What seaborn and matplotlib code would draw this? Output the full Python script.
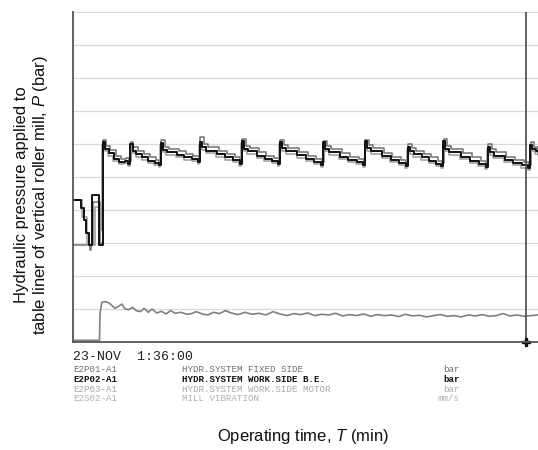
import numpy as np
import pandas as pd
import matplotlib
matplotlib.use("Agg")
import matplotlib.pyplot as plt
import seaborn as sns

# --- data (time in min, value in grid units) ---
# E2P02-A1 hydr. system work side B.E. (black)
p02_t = [0, 1.7, 2.3, 2.8, 3.4, 4.0, 5.6,
         6.4, 6.9, 7.7, 8.8, 9.9, 11.1, 11.9,
         12.3, 12.8, 13.6, 14.9, 16.2, 17.6, 18.5,
         18.9, 19.4, 20.2, 22.3, 23.9, 25.6, 26.9,
         27.3, 27.8, 28.6, 30.9, 32.7, 34.5, 35.9,
         36.3, 36.8, 37.6, 39.6, 41.2, 42.9, 44.1,
         44.5, 45.0, 45.8, 48.2, 50.1, 51.9, 53.4,
         53.8, 54.3, 55.1, 57.4, 59.2, 61.0, 62.4,
         62.8, 63.3, 64.1, 66.5, 68.3, 70.2, 71.6,
         72.0, 72.5, 73.3, 75.0, 76.6, 78.1, 79.2,
         79.6, 80.1, 80.9, 83.4, 85.4, 87.3, 88.8,
         89.2, 89.7, 90.5, 92.8, 94.7, 96.5, 97.9,
         98.3, 98.8, 99.5, 100]
p02_v = [4.3, 4.05, 3.7, 3.3, 2.95, 4.45, 2.95,
         6.07, 5.85, 5.72, 5.55, 5.45, 5.5, 5.39,
         5.99, 5.8, 5.7, 5.6, 5.5, 5.42, 5.36,
         6.04, 5.82, 5.75, 5.68, 5.6, 5.55, 5.46,
         6.05, 5.9, 5.8, 5.7, 5.6, 5.52, 5.4,
         6.1, 5.85, 5.78, 5.65, 5.55, 5.48, 5.39,
         6.07, 5.88, 5.78, 5.66, 5.55, 5.45, 5.36,
         6.05, 5.85, 5.75, 5.62, 5.52, 5.45, 5.36,
         6.08, 5.87, 5.78, 5.65, 5.52, 5.42, 5.33,
         5.92, 5.78, 5.7, 5.6, 5.5, 5.4, 5.33,
         6.08, 5.85, 5.76, 5.62, 5.5, 5.4, 5.31,
         5.92, 5.75, 5.65, 5.52, 5.42, 5.35, 5.26,
         5.98, 5.85, 5.78, 5.75]

# E2P01-A1 hydr. system fixed side (medium gray)
p01_t = [0, 3.6, 3.8, 4.4, 5.9,
         6.5, 7.1, 8.0, 9.2, 10.3, 11.4, 12.0,
         12.4, 13.0, 13.9, 15.3, 16.6, 17.9, 18.6,
         19.0, 19.7, 20.6, 22.7, 24.3, 25.9, 27.0,
         27.4, 28.1, 29.0, 31.3, 33.1, 34.9, 36.0,
         36.4, 37.1, 38.0, 40.0, 41.6, 43.3, 44.2,
         44.6, 45.3, 46.2, 48.6, 50.5, 52.3, 53.5,
         53.9, 54.6, 55.5, 57.8, 59.6, 61.4, 62.5,
         62.9, 63.6, 64.5, 66.9, 68.7, 70.6, 71.7,
         72.1, 72.8, 73.7, 75.4, 77.0, 78.5, 79.3,
         79.7, 80.4, 81.3, 83.8, 85.8, 87.7, 88.9,
         89.3, 90.0, 90.9, 93.2, 95.1, 96.9, 98.0,
         98.4, 99.1, 100]
p01_v = [2.95, 2.8, 2.95, 4.25, 3.0,
         6.12, 5.95, 5.82, 5.65, 5.55, 5.58, 5.47,
         6.05, 5.9, 5.8, 5.7, 5.6, 5.52, 5.45,
         6.12, 5.92, 5.85, 5.78, 5.7, 5.63, 5.55,
         6.2, 6.0, 5.9, 5.8, 5.7, 5.6, 5.5,
         6.15, 5.95, 5.88, 5.75, 5.65, 5.57, 5.48,
         6.12, 5.97, 5.87, 5.75, 5.64, 5.55, 5.45,
         6.1, 5.95, 5.85, 5.72, 5.62, 5.55, 5.45,
         6.12, 5.97, 5.87, 5.74, 5.62, 5.52, 5.42,
         6.0, 5.87, 5.8, 5.7, 5.6, 5.5, 5.42,
         6.15, 5.95, 5.85, 5.72, 5.6, 5.5, 5.4,
         6.0, 5.85, 5.75, 5.62, 5.52, 5.44, 5.35,
         6.05, 5.9, 5.85]

# E2P03-A1 hydr. system work side motor (light gray)
p03_t = [0, 2.0, 3.0, 4.8, 6.0,
         6.3, 6.8, 7.6, 8.7, 9.8, 11.0, 11.8,
         12.2, 12.7, 13.5, 14.8, 16.1, 17.5, 18.4,
         18.8, 19.3, 20.1, 22.2, 23.8, 25.5, 26.8,
         27.2, 27.7, 28.5, 30.8, 32.6, 34.4, 35.8,
         36.2, 36.7, 37.5, 39.5, 41.1, 42.8, 44.0,
         44.4, 44.9, 45.7, 48.1, 50.0, 51.8, 53.3,
         53.7, 54.2, 55.0, 57.3, 59.1, 60.9, 62.3,
         62.7, 63.2, 64.0, 66.4, 68.2, 70.1, 71.5,
         71.9, 72.4, 73.2, 74.9, 76.5, 78.0, 79.1,
         79.5, 80.0, 80.8, 83.3, 85.3, 87.2, 88.7,
         89.1, 89.6, 90.4, 92.7, 94.6, 96.4, 97.8,
         98.2, 98.7, 99.4, 100]
p03_v = [4.3, 3.8, 2.95, 4.1, 3.4,
         5.98, 5.78, 5.65, 5.48, 5.38, 5.42, 5.33,
         5.92, 5.72, 5.62, 5.52, 5.43, 5.36, 5.3,
         5.97, 5.75, 5.68, 5.6, 5.53, 5.48, 5.4,
         5.98, 5.83, 5.72, 5.62, 5.53, 5.45, 5.34,
         6.02, 5.78, 5.7, 5.58, 5.48, 5.41, 5.33,
         6.0, 5.8, 5.7, 5.58, 5.48, 5.38, 5.3,
         5.98, 5.78, 5.68, 5.55, 5.45, 5.38, 5.3,
         6.0, 5.8, 5.7, 5.58, 5.45, 5.35, 5.27,
         5.85, 5.7, 5.62, 5.52, 5.43, 5.33, 5.27,
         6.0, 5.78, 5.68, 5.55, 5.43, 5.33, 5.25,
         5.85, 5.68, 5.58, 5.45, 5.35, 5.28, 5.2,
         5.92, 5.78, 5.7, 5.68]

# E2S02-A1 mill vibration
vib_t = [0, 5.7, 5.8, 6.2, 7.0, 7.8, 8.4, 9.0, 9.8, 10.5, 11.2, 12.0, 12.8,
         13.6, 14.5, 15.3, 16.2, 17.0, 18.0, 19.0, 20.0, 21.0, 22.0, 23.2,
         24.5, 25.5, 26.5, 27.8, 29.0, 30.2, 31.5, 32.8, 34.0, 35.5, 37.0,
         38.5, 40.0, 41.5, 43.0, 44.5, 46.0, 47.5, 49.0, 50.5, 52.0, 53.5,
         55.0, 56.5, 58.0, 59.5, 61.0, 62.5, 64.0, 65.5, 67.0, 68.5, 70.0,
         71.5, 73.0, 74.5, 76.0, 77.5, 79.0, 80.5, 82.0, 83.5, 85.0, 86.5,
         88.0, 89.5, 91.0, 92.5, 94.0, 95.5, 97.0, 98.5, 100]
vib_v = [0.05, 0.05, 0.85, 1.2, 1.22, 1.18, 1.1, 1.02, 1.08, 1.15, 1.0, 0.98,
         1.05, 0.95, 0.92, 1.02, 0.9, 1.0, 0.88, 0.93, 0.85, 0.95, 0.87, 0.9,
         0.84, 0.86, 0.92, 0.85, 0.82, 0.9, 0.86, 0.95, 0.88, 0.83, 0.9, 0.84,
         0.87, 0.82, 0.92, 0.85, 0.8, 0.86, 0.83, 0.88, 0.8, 0.84, 0.82, 0.87,
         0.79, 0.83, 0.8, 0.85, 0.78, 0.83, 0.8, 0.82, 0.77, 0.84, 0.79, 0.81,
         0.76, 0.8, 0.83, 0.78, 0.8, 0.76, 0.82, 0.79, 0.83, 0.78, 0.8, 0.86,
         0.79, 0.82, 0.78, 0.8, 0.82]

cursor_t = 97.4
timestamp = "23-NOV  1:36:00"
tag_ids = ["E2P01-A1", "E2P02-A1", "E2P03-A1", "E2S02-A1"]
tag_names = ["HYDR.SYSTEM FIXED SIDE", "HYDR.SYSTEM WORK.SIDE B.E.",
             "HYDR.SYSTEM WORK.SIDE MOTOR", "MILL VIBRATION"]
tag_units = ["bar", "bar", "bar", "mm/s"]

# --- style ---
sns.set_style("white")
plt.rcParams["font.family"] = ["Liberation Sans", "DejaVu Sans"]
plt.rcParams["mathtext.fontset"] = "custom"
plt.rcParams["mathtext.rm"] = "Liberation Sans"
plt.rcParams["mathtext.it"] = "Liberation Sans:italic"

tag_colors = ["#707070", "#111111", "#a8a8a8", "#b0b0b0"]
tag_weights = ["normal", "bold", "normal", "normal"]

fig = plt.figure(figsize=(5.38, 4.5), dpi=100)
ax = fig.add_axes([73 / 538, 108 / 450, 465 / 538, 330 / 450])

ax.set_xlim(0, 100)
ax.set_ylim(0, 10)
ax.set_yticks(np.arange(0, 11, 1))
ax.set_xticks([])
ax.tick_params(axis="y", length=0, labelleft=False)
ax.grid(axis="y", color="#dadada", lw=0.9)
for s in ["top", "right"]:
    ax.spines[s].set_visible(False)
for s in ["left", "bottom"]:
    ax.spines[s].set_color("#555555")
    ax.spines[s].set_linewidth(1.3)

sns.lineplot(x=p01_t, y=p01_v, ax=ax, color=tag_colors[0], lw=1.1,
             drawstyle="steps-post", estimator=None, sort=False)
sns.lineplot(x=p03_t, y=p03_v, ax=ax, color="#9a9a9a", lw=1.1,
             drawstyle="steps-post", estimator=None, sort=False)
sns.lineplot(x=p02_t, y=p02_v, ax=ax, color=tag_colors[1], lw=1.4,
             drawstyle="steps-post", estimator=None, sort=False)
sns.lineplot(x=vib_t, y=vib_v, ax=ax, color="#808080", lw=1.2,
             estimator=None, sort=False)

# cursor line with marker at the bottom
ax.axvline(cursor_t, color="#555555", lw=1.3)
ax.plot([cursor_t], [0], marker="P", color="#111111", ms=6, clip_on=False)

ax.set_xlabel("")
ax.set_ylabel("")

# axis titles
fig.text(32 / 538, 1 - 195 / 450,
         "Hydraulic pressure applied to\ntable liner of vertical roller mill, $P$ (bar)",
         rotation=90, ha="center", va="center", fontsize=12, color="#111111")
fig.text(303 / 538, 1 - 437 / 450, "Operating time, $T$ (min)",
         ha="center", va="center", fontsize=12, color="#111111")

# recorder legend block
mono = ["Liberation Mono", "DejaVu Sans Mono"]
fig.text(73 / 538, 1 - 357 / 450, timestamp, family=mono, fontsize=9.5,
         color="#222222", va="center", ha="left")
row_y = [370, 379.5, 389, 398.5]
for i in range(4):
    yy = 1 - row_y[i] / 450
    fig.text(73 / 538, yy, tag_ids[i], family=mono, fontsize=6.6,
             color=tag_colors[i], weight=tag_weights[i], va="center", ha="left")
    fig.text(182 / 538, yy, tag_names[i], family=mono, fontsize=6.6,
             color=tag_colors[i], weight=tag_weights[i], va="center", ha="left")
    fig.text(460 / 538, yy, tag_units[i], family=mono, fontsize=6.6,
             color=tag_colors[i], weight=tag_weights[i], va="center", ha="right")

fig.savefig("out.png", dpi=100)
